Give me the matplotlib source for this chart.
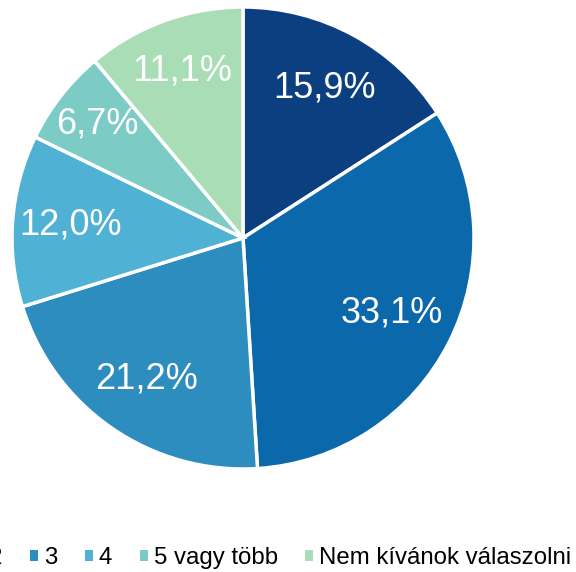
import numpy as np
import matplotlib.pyplot as plt
from matplotlib.patches import Patch

plt.rcParams['font.family'] = ['Liberation Sans', 'DejaVu Sans']

# Survey answer shares (%)
categories = ['1', '2', '3', '4', '5 vagy több', 'Nem kívánok válaszolni']
shares = [15.9, 33.1, 21.2, 12.0, 6.7, 11.1]
colors = ['#0b3f80', '#0a68ab', '#2e8dbf', '#4fb2d4', '#7ccbc4', '#a9ddb6']
label_dist = [0.74, 0.72, 0.74, 0.75, 0.80, 0.77]

fig = plt.figure(figsize=(5.76, 5.72), dpi=100)
ax = fig.add_axes([12 / 576, (572 - 238 - 231) / 572, 462 / 576, 462 / 572])

wedges, _ = ax.pie(shares, colors=colors, startangle=90, counterclock=False,
                   radius=1, wedgeprops=dict(edgecolor='white', linewidth=2.5))

# percentage labels placed along each wedge's mid angle
total = sum(shares)
cum = 0
for val, d in zip(shares, label_dist):
    mid = np.deg2rad(90 - (cum + val / 2) / total * 360)
    cum += val
    ax.text(d * np.cos(mid), d * np.sin(mid), f'{val:.1f}%'.replace('.', ','),
            ha='center', va='center', color='white', fontsize=26)

ax.set_xlim(-1, 1)
ax.set_ylim(-1, 1)
ax.set_aspect('equal')
ax.axis('off')

handles = [Patch(facecolor=c, edgecolor='none') for c in colors]
fig.legend(handles, categories, loc='center right', bbox_to_anchor=(0.992, 0.024),
           ncol=6, frameon=False, fontsize=17.3, borderpad=0, borderaxespad=0,
           handlelength=0.33, handleheight=0.33, handletextpad=0.25,
           columnspacing=1.15)

fig.savefig('out.png', dpi=100)
